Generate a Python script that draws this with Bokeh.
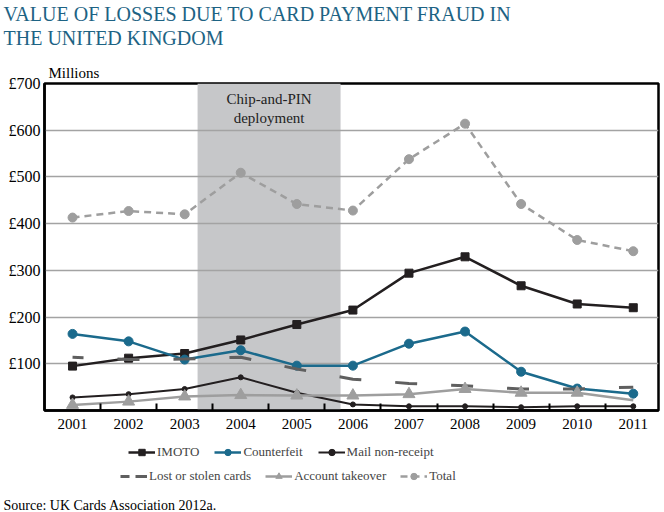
from bokeh.plotting import figure
from bokeh.models import FixedTicker, Label, Legend, LegendItem, Title, Range1d
from bokeh.layouts import column
from bokeh.embed import file_html
from bokeh.resources import INLINE

# ---------------- data ----------------
years = [2001, 2002, 2003, 2004, 2005, 2006, 2007, 2008, 2009, 2010, 2011]
imoto = [95, 112, 122, 151, 184, 215, 294, 329, 267, 228, 220]
counterfeit = [164, 148, 109, 129, 96, 96, 143, 169, 83, 47, 36]
mail_non_receipt = [28, 35, 46, 71, 38, 13, 9, 9, 7, 9, 9]
lost_stolen = [114, 109, 110, 114, 89, 67, 58, 53, 46, 46, 50]
account_takeover = [12, 19, 30, 33, 32, 32, 35, 46, 38, 38, 22]
total = [413, 427, 420, 509, 442, 428, 538, 614, 442, 365, 341]
y_ticks = [100, 200, 300, 400, 500, 600, 700]
y_tick_labels = ["£100", "£200", "£300", "£400", "£500", "£600", "£700"]
chip_pin_start = 2003.23
chip_pin_end = 2005.78

title_lines = ["VALUE OF LOSSES DUE TO CARD PAYMENT FRAUD IN", "THE UNITED KINGDOM"]
band_lines = ["Chip-and-PIN", "deployment"]
unit_text = "Millions"
source_text = "Source: UK Cards Association 2012a."
legend_row1 = ["IMOTO", "Counterfeit", "Mail non-receipt"]
legend_row2 = ["Lost or stolen cards", "Account takeover", "Total"]

SERIF = "Liberation Serif"
TITLE_COLOR = "#1d6384"
BLUE = "#1b6a8c"
GREY = "#9e9e9e"
DARK = "#231f20"

W, H = 664, 512
HEAD_H = 56
MAIN_END = 440
MAIN_H = MAIN_END - HEAD_H
FOOT_H = H - MAIN_END
FL, FR, FT, FB = 44, 658, 83, 410
X0, X1 = 2000.5, 2011.45
Y0, Y1 = 0, 700

STY = {
    "imoto": dict(line=dict(line_color=DARK, line_width=2.5),
                  mark=dict(marker="square", size=8, fill_color=DARK, line_color=DARK)),
    "cf": dict(line=dict(line_color=BLUE, line_width=2.5),
               mark=dict(marker="circle", size=9, fill_color=BLUE, line_color=BLUE)),
    "mail": dict(line=dict(line_color=DARK, line_width=2),
                 mark=dict(marker="circle", size=5, fill_color=DARK, line_color=DARK)),
    "lost": dict(line=dict(line_color="#5f5f5f", line_width=3, line_dash="22 34",
                           line_dash_offset=11)),
    "at": dict(line=dict(line_color=GREY, line_width=2.5),
               mark=dict(marker="triangle", size=12, fill_color=GREY, line_color=GREY)),
    "tot": dict(line=dict(line_color=GREY, line_width=2.5, line_dash="7 5"),
                mark=dict(marker="circle", size=9, fill_color=GREY, line_color=GREY)),
}
LEGEND_LINE_OVERRIDE = {"lost": dict(line_dash="9 6 12 0", line_dash_offset=0)}
SERIES = {"imoto": imoto, "cf": counterfeit, "mail": mail_non_receipt,
          "lost": lost_stolen, "at": account_takeover, "tot": total}


def strip(h, top, bottom):
    f = figure(width=W, height=h, x_range=Range1d(0, 1), y_range=Range1d(0, 1),
               output_backend="svg", toolbar_location=None, title_location=None,
               min_border_left=FL, min_border_right=W - FR,
               min_border_top=top, min_border_bottom=bottom)
    f.axis.visible = False
    f.grid.visible = False
    f.outline_line_color = None
    f.background_fill_color = "white"
    f.border_fill_color = "white"
    return f

# ---------------- header: two title lines ----------------
head = strip(HEAD_H, 43, 0)
head.add_layout(Title(text=title_lines[1], align="left", offset=3 - FL, standoff=0,
                      text_font=SERIF, text_font_size="20px", text_font_style="normal",
                      text_color=TITLE_COLOR), "above")
head.add_layout(Title(text=title_lines[0], align="left", offset=3 - FL, standoff=0,
                      text_font=SERIF, text_font_size="20px", text_font_style="normal",
                      text_color=TITLE_COLOR), "above")

# ---------------- main chart ----------------
p = figure(width=W, height=MAIN_H, x_range=(X0, X1), y_range=(Y0, Y1),
           output_backend="svg", toolbar_location=None, title_location=None,
           min_border_left=FL, min_border_right=W - FR,
           min_border_top=FT - HEAD_H, min_border_bottom=MAIN_END - FB)
p.background_fill_color = "white"
p.border_fill_color = "white"
p.outline_line_color = "black"
p.outline_line_width = 2.5

p.quad(left=[chip_pin_start], right=[chip_pin_end], bottom=[Y0], top=[Y1],
       fill_color="#c6c7c9", line_color=None, level="image")

p.xaxis.ticker = FixedTicker(ticks=years, minor_ticks=[y + 0.5 for y in years[:-1]])
p.xaxis.major_tick_line_color = None
p.xaxis.major_tick_out = 0
p.xaxis.major_tick_in = 0
p.xaxis.minor_tick_in = 7
p.xaxis.minor_tick_out = 0
p.xaxis.minor_tick_line_width = 2
p.xaxis.minor_tick_line_color = "black"
p.xaxis.axis_line_width = 2.5
p.xaxis.axis_line_color = "black"
p.xaxis.major_label_text_font = SERIF
p.xaxis.major_label_text_font_size = "15px"
p.xaxis.major_label_text_color = "black"
p.xaxis.major_label_standoff = 8

p.yaxis.ticker = FixedTicker(ticks=y_ticks)
p.yaxis.major_label_overrides = {t: l for t, l in zip(y_ticks, y_tick_labels)}
p.yaxis.major_tick_line_color = None
p.yaxis.minor_tick_line_color = None
p.yaxis.major_tick_out = 0
p.yaxis.major_tick_in = 0
p.yaxis.axis_line_width = 2.5
p.yaxis.axis_line_color = "black"
p.yaxis.major_label_text_font = SERIF
p.yaxis.major_label_text_font_size = "16px"
p.yaxis.major_label_text_color = "black"
p.yaxis.major_label_standoff = 4

p.xgrid.grid_line_color = None
p.ygrid.ticker = FixedTicker(ticks=y_ticks)
p.ygrid.grid_line_color = "#a3a3a3"
p.ygrid.grid_line_width = 1.5

for key in ["imoto", "cf", "mail", "lost", "at", "tot"]:
    vals = SERIES[key]
    p.line(years, vals, **STY[key]["line"])
    if "mark" in STY[key]:
        if key == "at":   # no marker on the final account-takeover point
            p.scatter(years[:-1], vals[:-1], **STY[key]["mark"])
        else:
            p.scatter(years, vals, **STY[key]["mark"])

band_mid = (chip_pin_start + chip_pin_end) / 2
def val_at(py):
    return Y0 + (FB - py) * (Y1 - Y0) / (FB - FT)
p.add_layout(Label(x=band_mid, y=val_at(98), text=band_lines[0], text_font=SERIF,
                   text_font_size="15px", text_align="center", text_baseline="middle",
                   text_color="#222222"))
p.add_layout(Label(x=band_mid, y=val_at(117), text=band_lines[1], text_font=SERIF,
                   text_font_size="15px", text_align="center", text_baseline="middle",
                   text_color="#222222"))

p.add_layout(Title(text=unit_text, align="left", offset=48 - FL, standoff=6,
                   text_font=SERIF, text_font_size="15px", text_font_style="normal",
                   text_color="black"), "above")

# ---------------- footer: legend + source ----------------
FOOT_FB = 496  # footer frame bottom, page px
foot = strip(FOOT_H, 0, H - FOOT_FB)

def legend_renderers(key):
    # same series drawn again in the footer (outside its view) only to supply legend glyphs
    vals = SERIES[key]
    line_style = dict(STY[key]["line"], **LEGEND_LINE_OVERRIDE.get(key, {}))
    rs = [foot.line(years, vals, **line_style)]
    if "mark" in STY[key]:
        rs.append(foot.scatter(years, vals, **STY[key]["mark"]))
    return rs

def make_legend(labels, keys, vx, vy, spacing):
    items = [LegendItem(label=l, renderers=legend_renderers(k)) for l, k in zip(labels, keys)]
    return Legend(items=items, orientation="horizontal", location=(vx, vy),
                  padding=0, margin=0, spacing=spacing, label_standoff=2,
                  glyph_width=27, glyph_height=16, label_height=16,
                  label_text_font=SERIF, label_text_font_size="13px",
                  border_line_color=None, background_fill_alpha=0)

foot.add_layout(make_legend(legend_row1, ["imoto", "cf", "mail"], 128 - FL, FOOT_FB - 461, 15), "center")
foot.add_layout(make_legend(legend_row2, ["lost", "at", "tot"], 120 - FL, FOOT_FB - 485, 14), "center")
foot.add_layout(Title(text=source_text, align="left", offset=3 - FL, standoff=0,
                      text_font=SERIF, text_font_size="14px", text_font_style="normal",
                      text_color="black"), "below")

layout = column(head, p, foot, spacing=0)
open("out.html", "w").write(file_html(layout, INLINE))
